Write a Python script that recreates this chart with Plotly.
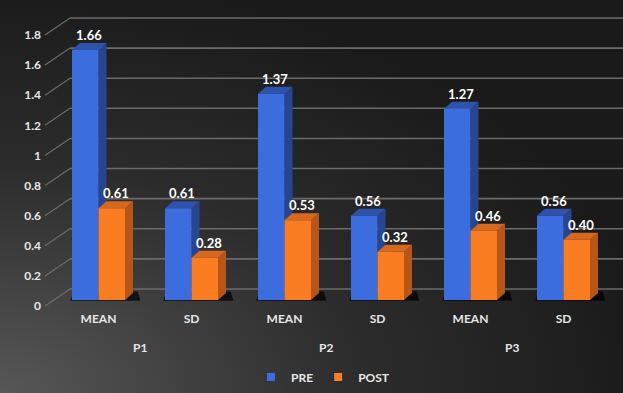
import base64
import plotly.graph_objects as go

# ---------------- data ----------------
groups = ["P1", "P1", "P2", "P2", "P3", "P3"]
stats = ["MEAN", "SD", "MEAN", "SD", "MEAN", "SD"]
pre = [1.66, 0.61, 1.37, 0.56, 1.27, 0.56]
post = [0.61, 0.28, 0.53, 0.32, 0.46, 0.40]
y_ticks = [0, 0.2, 0.4, 0.6, 0.8, 1, 1.2, 1.4, 1.6, 1.8]
y_tick_text = ["0", "0.2", "0.4", "0.6", "0.8", "1", "1.2", "1.4", "1.6", "1.8"]
group_names = ["P1", "P2", "P3"]
series_names = ["PRE", "POST"]

# ---------------- style ----------------
W, H = 623, 393
ML, MR, MT, MB = 52, 13, 10, 83
PW, PH = W - ML - MR, H - MT - MB
Y0, Y1 = -0.0664, 1.926
BAR_W = 0.285
DX = 0.086          # depth in x units
DY = 0.0465         # depth in y units
BACK = 0.073        # back-wall offset of gridlines (y units)
LABEL_SHIFT = 0.04  # tick labels sit slightly below front plane
FONT = "Lato"

BLUE, BLUE_TOP, BLUE_SIDE = "#3b6ddf", "#2f52ad", "#284591"
ORANGE, ORANGE_TOP, ORANGE_SIDE = "#fb7d22", "#d6691f", "#b8561a"
GRID = "#6b6b6b"
TXT = "#e6e6e6"

x_idx = list(range(len(stats)))


def px_to_paper_x(px):
    return (px - ML) / PW


def px_to_paper_y(py):
    return (MT + PH - py) / PH


fig = go.Figure()
fig.add_trace(go.Bar(x=x_idx, y=pre, name=series_names[0], width=BAR_W, offset=-BAR_W,
                     marker=dict(color=BLUE, line=dict(width=0)), hoverinfo="y",
                     showlegend=False, legendgroup="pre"))
fig.add_trace(go.Bar(x=x_idx, y=post, name=series_names[1], width=BAR_W, offset=0,
                     marker=dict(color=ORANGE, line=dict(width=0)), hoverinfo="y",
                     showlegend=False, legendgroup="post"))
# legend entries (small squares, like the original)
for name, col, grp in [(series_names[0], BLUE, "pre"), (series_names[1], ORANGE, "post")]:
    fig.add_trace(go.Scatter(x=[None], y=[None], mode="markers", name=name, legendgroup=grp,
                             marker=dict(symbol="square", size=8, color=col)))
# carrier for the label axis
fig.add_trace(go.Scatter(x=[x_idx[0]], y=[0], yaxis="y2", mode="markers",
                         marker=dict(opacity=0), showlegend=False, hoverinfo="skip"))

shapes = []
# back-wall gridlines + perspective diagonals
gx0, gx1, dxl = px_to_paper_x(70), px_to_paper_x(W + 5), px_to_paper_x(45)
for v in y_ticks:
    shapes.append(dict(type="line", xref="paper", yref="y", x0=gx0, x1=gx1,
                       y0=v + BACK, y1=v + BACK, line=dict(color=GRID, width=1.6), layer="below"))
    shapes.append(dict(type="line", xref="paper", yref="y", x0=dxl, x1=gx0,
                       y0=v - LABEL_SHIFT, y1=v + BACK, line=dict(color=GRID, width=1.2), layer="below"))

# floor shadows
for x in x_idx:
    xl, xr = x - BAR_W, x + BAR_W + DX
    shapes.append(dict(type="path", xref="x", yref="y",
                       path=f"M{xl-0.02},{-0.005} L{xr+0.08},{-0.005} L{xr+0.05},{DY+0.01} L{xl+0.02},{DY+0.01} Z",
                       fillcolor="rgba(0,0,0,0.7)", line=dict(width=0), layer="below"))


def faces(x_left, v, top, side):
    xr = x_left + BAR_W
    return [
        dict(type="path", xref="x", yref="y",
             path=f"M{xr},{0} L{xr+DX},{DY} L{xr+DX},{v+DY} L{xr},{v} Z",
             fillcolor=side, line=dict(width=0), layer="below"),
        dict(type="path", xref="x", yref="y",
             path=f"M{x_left},{v} L{xr},{v} L{xr+DX},{v+DY} L{x_left+DX},{v+DY} Z",
             fillcolor=top, line=dict(width=0), layer="below"),
    ]


for x, v in zip(x_idx, pre):
    shapes += faces(x - BAR_W, v, BLUE_TOP, BLUE_SIDE)
for x, v in zip(x_idx, post):
    shapes += faces(x, v, ORANGE_TOP, ORANGE_SIDE)

annotations = []
for x, v in zip(x_idx, pre):
    annotations.append(dict(x=x - BAR_W / 2 + DX / 2, y=v + DY, text=f"{v:.2f}", showarrow=False,
                            yanchor="bottom", xref="x", yref="y", yshift=-2,
                            font=dict(family=FONT, size=13, color="white", weight="bold")))
for x, v in zip(x_idx, post):
    annotations.append(dict(x=x + BAR_W / 2 + DX / 2, y=v + DY, text=f"{v:.2f}", showarrow=False,
                            yanchor="bottom", xref="x", yref="y", yshift=-2,
                            font=dict(family=FONT, size=13, color="white", weight="bold")))
# group labels
for g in group_names:
    xs = [x for x, gg in zip(x_idx, groups) if gg == g]
    annotations.append(dict(x=sum(xs) / len(xs), y=px_to_paper_y(347), yanchor="middle",
                            xref="x", yref="paper", text=g, showarrow=False, xshift=-5,
                            font=dict(family=FONT, size=12, color=TXT, weight="bold")))

# background gradient as svg
svg = f"""<svg xmlns='http://www.w3.org/2000/svg' width='{W}' height='{H}' preserveAspectRatio='none'>
<defs><radialGradient id='g' cx='0' cy='1' r='1.05' gradientUnits='objectBoundingBox'>
<stop offset='0' stop-color='#575757'/><stop offset='0.55' stop-color='#2c2c2c'/>
<stop offset='1' stop-color='#1a1a1a'/></radialGradient></defs>
<rect width='{W}' height='{H}' fill='url(#g)'/></svg>"""
src = "data:image/svg+xml;base64," + base64.b64encode(svg.encode()).decode()

fig.update_layout(
    width=W, height=H, autosize=False,
    margin=dict(l=ML, r=MR, t=MT, b=MB, pad=0),
    paper_bgcolor="#1c1c1c", plot_bgcolor="rgba(0,0,0,0)",
    barmode="overlay",
    images=[dict(source=src, xref="paper", yref="paper", x=-ML / PW, y=1 + MT / PH,
                 sizex=W / PW, sizey=H / PH, sizing="stretch", layer="below",
                 xanchor="left", yanchor="top")],
    xaxis=dict(range=[-0.5, len(stats) - 0.5], tickvals=x_idx, ticktext=stats,
               showgrid=False, zeroline=False, showline=False, ticks="", automargin=False,
               tickfont=dict(family=FONT, size=12, color=TXT, weight="bold")),
    yaxis=dict(range=[Y0, Y1], showgrid=False, zeroline=False, showticklabels=False,
               showline=False, automargin=False),
    yaxis2=dict(range=[Y0 + LABEL_SHIFT, Y1 + LABEL_SHIFT], overlaying="y", side="left",
                tickvals=y_ticks, ticktext=y_tick_text, showgrid=False, zeroline=False,
                showline=False, ticks="", ticklabelstandoff=10, automargin=False,
                tickfont=dict(family=FONT, size=12, color=TXT, weight="bold")),
    legend=dict(orientation="h", x=323 / W, xanchor="center", xref="container",
                y=1 - 377 / H, yanchor="middle", yref="container",
                font=dict(family=FONT, size=12, color=TXT, weight="bold"),
                bgcolor="rgba(0,0,0,0)", itemwidth=30, traceorder="normal",
                entrywidth=0, tracegroupgap=0),
    shapes=shapes,
    annotations=annotations,
    showlegend=True,
)

post_js = (
    "document.body.style.margin='0';document.body.style.overflow='hidden';"
    "document.documentElement.style.overflow='hidden';"
    "document.body.style.background='#1c1c1c';"
)
fig.write_html("out.html", config={"responsive": False, "displayModeBar": False}, post_script=post_js)
